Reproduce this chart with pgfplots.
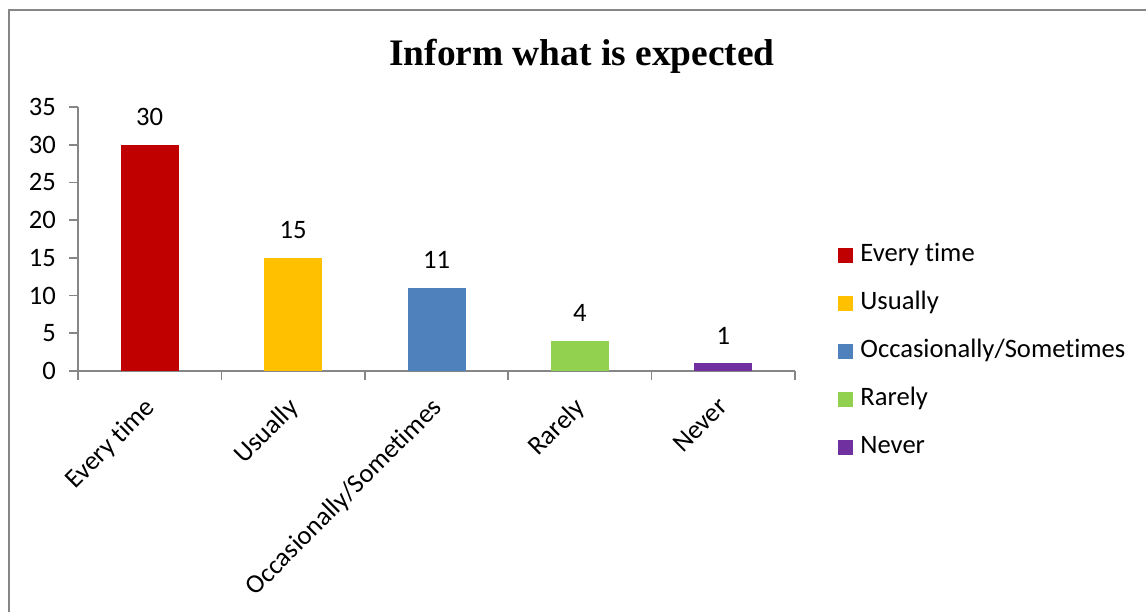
\documentclass[border=0pt]{standalone}
\usepackage{pgfplots}
\pgfplotsset{compat=1.18}
\usepackage{fontspec}
\setmainfont{Carlito}[Ligatures=NoCommon]
\newfontfamily\titlefont{Liberation Serif}

\definecolor{cEvery}{HTML}{C00000}
\definecolor{cUsually}{HTML}{FFC000}
\definecolor{cOcc}{HTML}{4F81BD}
\definecolor{cRarely}{HTML}{92D050}
\definecolor{cNever}{HTML}{7030A0}
\definecolor{axgray}{HTML}{868686}

\begin{document}
\begin{tikzpicture}[x=0.5pt,y=0.5pt]
  \useasboundingbox (0,0) rectangle (1146,611);
  % outer chart frame (cut off at right and bottom)
  \draw[axgray, line width=1pt] (9,-20) -- (9,601) -- (1170,601);

  \node[font=\titlefont\bfseries\fontsize{18.7}{22}\selectfont] at (582,555) {Inform what is expected};

  \begin{axis}[
      at={(39pt,120pt)}, anchor=south west,
      scale only axis,
      width=358.5pt, height=132pt,
      font=\fontsize{13.3}{16}\selectfont,
      /pgf/number format/assume math mode=true,
      xmin=-0.5, xmax=4.5,
      ymin=0, ymax=35,
      ytick={0,5,...,35},
      axis x line=bottom, axis y line=left,
      axis line style={-, axgray, line width=0.8pt},
      tick align=outside,
      major tick length=4.5pt,
      tick style={axgray, line width=0.8pt},
      xtick={-0.5,0.5,...,4.5},
      xticklabels={},
      extra x ticks={0,1,2,3,4},
      extra x tick labels={Every time,Usually,Occasionally/Sometimes,Rarely,Never},
      extra x tick style={major tick length=0pt,
        xticklabel style={rotate=45, anchor=north east, inner sep=1pt, yshift=-5.4pt, xshift=-10pt}},
      yticklabel style={xshift=-3pt},
      bar width=29pt,
      nodes near coords,
      every node near coord/.append style={font=\fontsize{13.3}{16}\selectfont, yshift=6pt},
      legend style={at={(1.06,0.074)}, anchor=west, draw=none, fill=none,
        inner sep=0pt, row sep=12pt,
        nodes={inner sep=0pt, text height=9pt, text depth=3pt},
        font=\fontsize{13.3}{16}\selectfont,
        /tikz/every odd column/.append style={column sep=3.5pt}},
      legend cell align=left,
      legend image code/.code={\fill[#1] (0pt,-3.75pt) rectangle (7.5pt,3.75pt);},
    ]
    \addplot[ybar, bar shift=0pt, fill=cEvery, draw=none] coordinates {(0,30)};
    \addplot[ybar, bar shift=0pt, fill=cUsually, draw=none] coordinates {(1,15)};
    \addplot[ybar, bar shift=0pt, fill=cOcc, draw=none] coordinates {(2,11)};
    \addplot[ybar, bar shift=0pt, fill=cRarely, draw=none] coordinates {(3,4)};
    \addplot[ybar, bar shift=0pt, fill=cNever, draw=none] coordinates {(4,1)};
    \legend{Every time,Usually,Occasionally/Sometimes,Rarely,Never}
  \end{axis}
\end{tikzpicture}
\end{document}
